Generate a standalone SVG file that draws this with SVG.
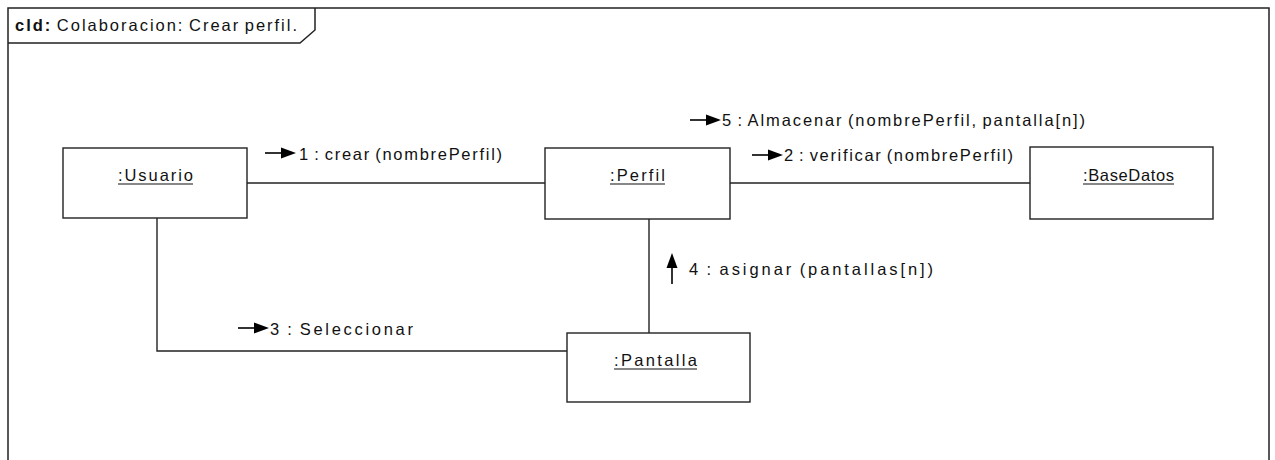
<svg xmlns="http://www.w3.org/2000/svg" width="1275" height="460" viewBox="0 0 1275 460">
  <style>
    .frame { fill: none; stroke: #222; stroke-width: 1.5; }
    .obj { fill: #fff; stroke: #222; stroke-width: 1.4; }
    .link { fill: none; stroke: #222; stroke-width: 1.4; }
    .txt { font-family: "Liberation Sans", Arial, sans-serif; font-size: 16.5px; fill: #111; word-spacing: -2px; }
    .ul { stroke: #111; stroke-width: 1.2; }
    .msg-line { stroke: #000; stroke-width: 1.6; }
    .msg-head { fill: #000; }
  </style>
  <defs>
    <!-- message direction marker: shaft with a filled head pointing right -->
    <g id="msgArrow">
      <line class="msg-line" x1="0" y1="0" x2="18" y2="0"/>
      <polygon class="msg-head" points="16,-5.5 31,0 16,5.5"/>
    </g>
  </defs>

  <rect x="0" y="0" width="1275" height="460" fill="#fff"/>

  <!-- diagram frame with name tab -->
  <g id="frame">
    <path class="frame" d="M8,460 L8,8 L1269,8 L1269,460"/>
    <path class="frame" d="M8,43 L300,43 L315,30 L315,8"/>
    <text class="txt" x="15" y="31" font-size="15.5" textLength="282" lengthAdjust="spacing"><tspan font-weight="bold">cld:</tspan> Colaboracion: Crear perfil.</text>
  </g>

  <!-- links between objects -->
  <g id="connectors">
    <line class="link" x1="247" y1="183" x2="545" y2="183"/>
    <line class="link" x1="730" y1="183" x2="1030" y2="183"/>
    <line class="link" x1="649" y1="219" x2="649" y2="333"/>
    <polyline class="link" points="157,218 157,351 567,351"/>

    <!-- message labels -->
    <use href="#msgArrow" x="265" y="153"/>
    <text class="txt" x="299" y="160" textLength="203" lengthAdjust="spacing">1 : crear (nombrePerfil)</text>

    <use href="#msgArrow" x="752" y="155"/>
    <text class="txt" x="784" y="161" textLength="229" lengthAdjust="spacing">2 : verificar (nombrePerfil)</text>

    <use href="#msgArrow" x="690" y="120"/>
    <text class="txt" x="722" y="126" textLength="363" lengthAdjust="spacing">5 : Almacenar (nombrePerfil, pantalla[n])</text>

    <use href="#msgArrow" x="238" y="328"/>
    <text class="txt" x="270" y="335" textLength="143" lengthAdjust="spacing">3 : Seleccionar</text>

    <use href="#msgArrow" transform="translate(672,284) rotate(-90)"/>
    <text class="txt" x="689" y="275" textLength="244" lengthAdjust="spacing">4 : asignar (pantallas[n])</text>
  </g>

  <g id="usuario">
    <rect class="obj" x="63" y="148" width="184" height="70"/>
    <text class="txt" x="118" y="181" textLength="75" lengthAdjust="spacing">:Usuario</text>
    <line class="ul" x1="118" y1="184" x2="193" y2="184"/>
  </g>

  <g id="perfil">
    <rect class="obj" x="545" y="148" width="185" height="71"/>
    <text class="txt" x="610" y="181" textLength="55" lengthAdjust="spacing">:Perfil</text>
    <line class="ul" x1="610" y1="184" x2="665" y2="184"/>
  </g>

  <g id="basedatos">
    <rect class="obj" x="1030" y="147" width="183" height="72"/>
    <text class="txt" x="1083" y="181" textLength="91" lengthAdjust="spacing">:BaseDatos</text>
    <line class="ul" x1="1083" y1="184" x2="1174" y2="184"/>
  </g>

  <g id="pantalla">
    <rect class="obj" x="567" y="333" width="183" height="69"/>
    <text class="txt" x="614" y="366" textLength="83" lengthAdjust="spacing">:Pantalla</text>
    <line class="ul" x1="614" y1="369" x2="697" y2="369"/>
  </g>
</svg>
